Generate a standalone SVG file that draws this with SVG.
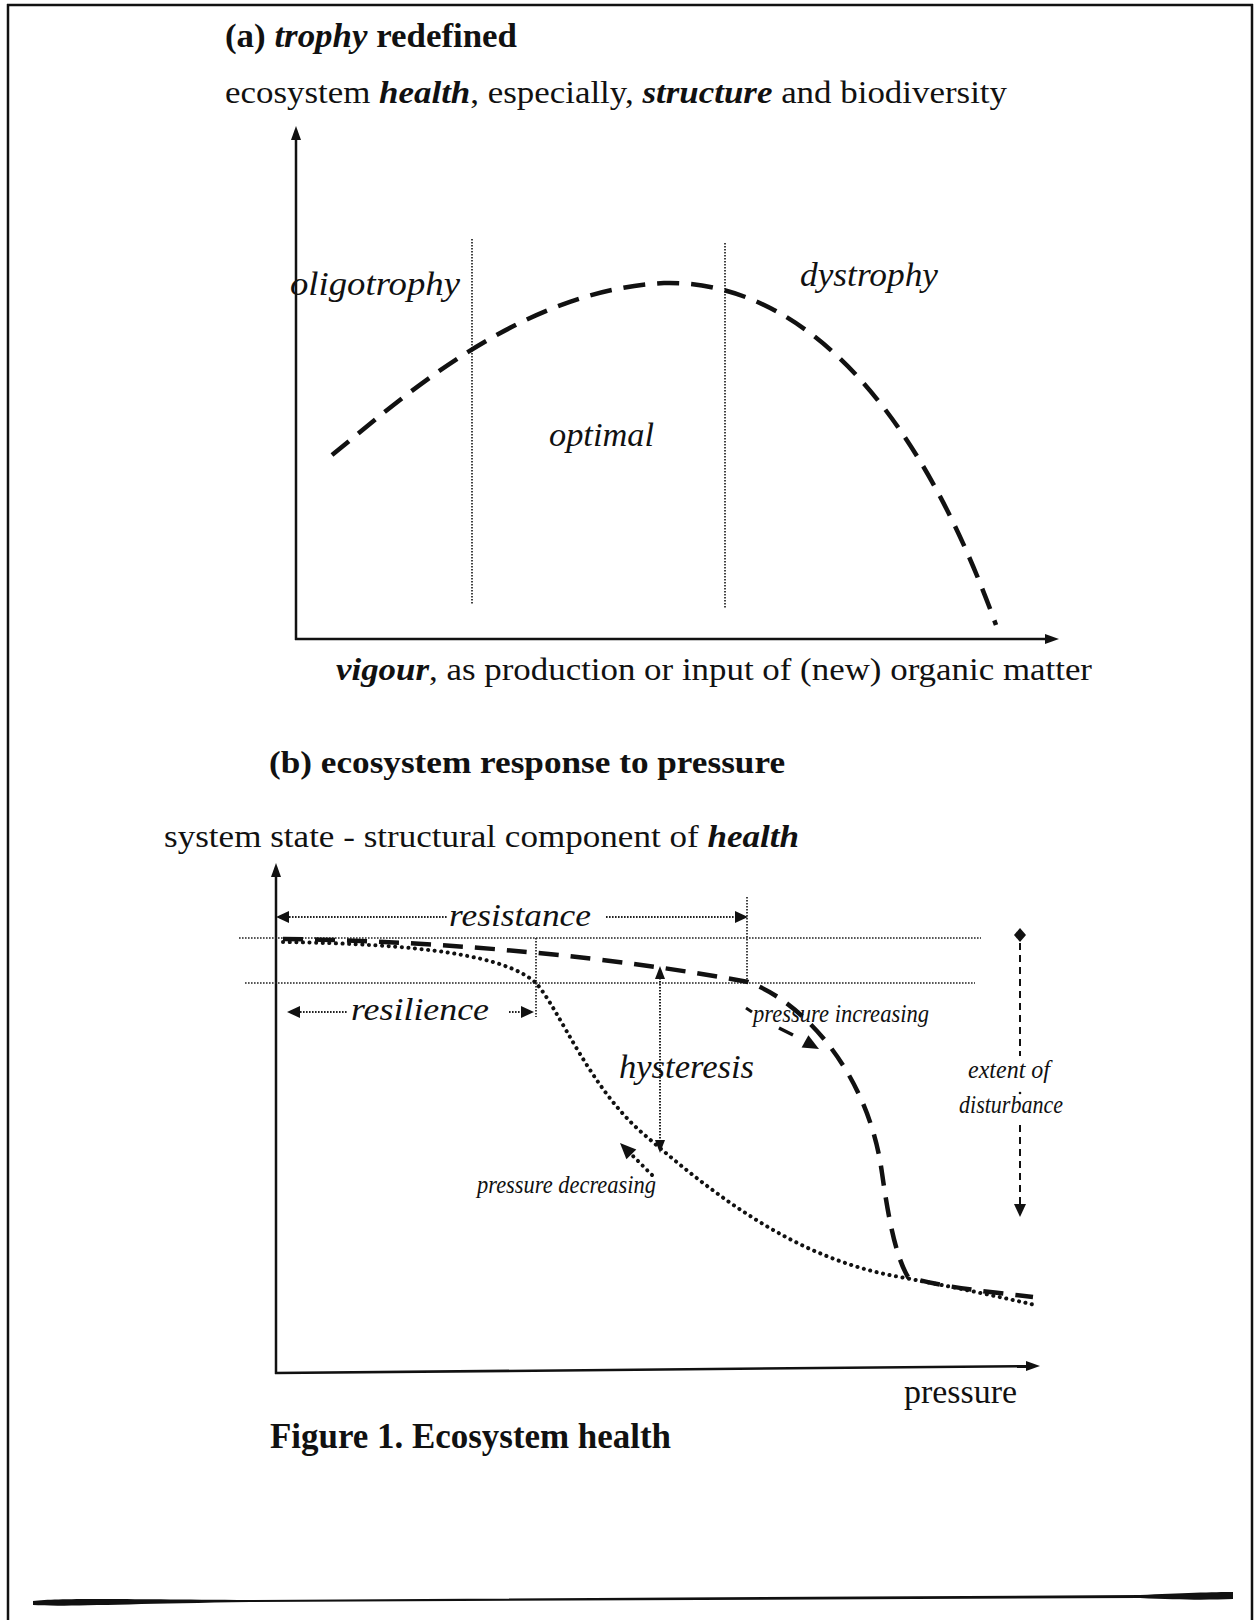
<svg xmlns="http://www.w3.org/2000/svg" width="1255" height="1620" viewBox="0 0 1255 1620">
<style>
text{font-family:"Liberation Serif","Times New Roman",serif;fill:#111}
.b{font-weight:bold}
.i{font-style:italic}
.bi{font-weight:bold;font-style:italic}
.axis{stroke:#111;stroke-width:2.5;fill:none}
.frame{stroke:#111;stroke-width:2.5;fill:none}
.dash{stroke:#111;stroke-width:4.5;fill:none;stroke-dasharray:22 12}
.dot{stroke:#111;stroke-width:4;fill:none;stroke-dasharray:0.1 6.5;stroke-linecap:round}
.fine{stroke:#222;stroke-width:1.7;fill:none;stroke-dasharray:1.6 1.4}
.head{fill:#111}
</style>
<rect width="1255" height="1620" fill="#fff"/>
<g id="frame">
<line class="frame" x1="8" y1="4" x2="8" y2="1620"/>
<line class="frame" x1="7" y1="5" x2="1253" y2="5"/>
<line class="frame" x1="1252" y1="4" x2="1252" y2="1620"/>
<path fill="#111" d="M33,1601 C 60,1598 110,1599 250,1600 L 1140,1595 C 1180,1593 1215,1592 1233,1592 L 1233,1599 C 1210,1600 1180,1600 1140,1598 L 250,1602 C 120,1604 60,1607 33,1605 Z"/>
</g>
<g id="panel-a">
<text class="b" x="225" y="47" font-size="34" textLength="292" lengthAdjust="spacingAndGlyphs">(a) <tspan class="bi">trophy</tspan> redefined</text>
<text x="225" y="103" font-size="32" textLength="782" lengthAdjust="spacingAndGlyphs">ecosystem <tspan class="bi">health</tspan>, especially, <tspan class="bi">structure</tspan> and biodiversity</text>
<g id="axes-a">
<line class="axis" x1="296" y1="139" x2="296" y2="640"/>
<polygon class="head" points="296,126 291,140 301,140"/>
<line class="axis" x1="295" y1="639" x2="1046" y2="639"/>
<polygon class="head" points="1059,639 1045,634 1045,644"/>
</g>
<line class="fine" x1="472" y1="239" x2="472" y2="604"/>
<line class="fine" x1="725" y1="243" x2="725" y2="608"/>
<path class="dash" d="M332,455 C 400,400 520,290 664,283 C 780,280 905,372 996,625"/>
<text class="i" x="290" y="295" font-size="34" textLength="170" lengthAdjust="spacingAndGlyphs">oligotrophy</text>
<text class="i" x="800" y="286" font-size="34" textLength="138" lengthAdjust="spacingAndGlyphs">dystrophy</text>
<text class="i" x="549" y="446" font-size="34" textLength="105" lengthAdjust="spacingAndGlyphs">optimal</text>
<text x="336" y="680" font-size="32" textLength="756" lengthAdjust="spacingAndGlyphs"><tspan class="bi">vigour</tspan>, as production or input of (new) organic matter</text>
</g>
<g id="panel-b">
<text class="b" x="269" y="773" font-size="32" textLength="516" lengthAdjust="spacingAndGlyphs">(b) ecosystem response to pressure</text>
<text x="164" y="847" font-size="31" textLength="635" lengthAdjust="spacingAndGlyphs">system state - structural component of <tspan class="bi">health</tspan></text>
<g id="axes-b">
<line class="axis" x1="276" y1="876" x2="276" y2="1374"/>
<polygon class="head" points="276,863 271,877 281,877"/>
<line class="axis" x1="275" y1="1373" x2="1027" y2="1366.2"/>
<polygon class="head" points="1040,1366 1026,1361 1026,1371"/>
</g>
<g id="reference-lines">
<line class="fine" x1="239" y1="938" x2="981" y2="938"/>
<line class="fine" x1="245" y1="983" x2="975" y2="983"/>
<line class="fine" x1="747" y1="897" x2="747" y2="983"/>
<line class="fine" x1="536" y1="938" x2="536" y2="1017"/>
</g>
<g id="curves">
<path class="dash" style="stroke-dasharray:20 12" d="M283,939 C 450,941 620,958 748,982 C 800,1000 868,1070 882,1173 C 888,1215 895,1255 908,1277 C 940,1287 990,1292 1033,1297"/>
<path class="dot" d="M283,942 C 420,944 505,955 536,983 C 560,1010 590,1090 647,1137 C 720,1200 800,1260 900,1277 Q 970,1290 1035,1305"/>
</g>
<g id="resistance">
<line class="fine" x1="286" y1="917" x2="447" y2="917" style="stroke-width:2.2"/>
<line class="fine" x1="606" y1="917" x2="738" y2="917" style="stroke-width:2.2"/>
<polygon class="head" points="276,917 289,911 289,923"/>
<polygon class="head" points="748,917 735,911 735,923"/>
<text class="i" x="449" y="926" font-size="32" textLength="142" lengthAdjust="spacingAndGlyphs">resistance</text>
</g>
<g id="resilience">
<line class="fine" x1="297" y1="1012" x2="348" y2="1012" style="stroke-width:2.2"/>
<line class="fine" x1="509" y1="1012" x2="524" y2="1012" style="stroke-width:2.2"/>
<polygon class="head" points="287,1012 300,1006 300,1018"/>
<polygon class="head" points="534,1012 521,1006 521,1018"/>
<text class="i" x="351" y="1020" font-size="32" textLength="138" lengthAdjust="spacingAndGlyphs">resilience</text>
</g>
<g id="hysteresis">
<line class="fine" x1="660" y1="978" x2="660" y2="1141" style="stroke-width:2"/>
<polygon class="head" points="660,966 655,979 665,979"/>
<polygon class="head" points="660,1153 655,1140 665,1140"/>
<text class="i" x="619" y="1078" font-size="34" textLength="135" lengthAdjust="spacingAndGlyphs">hysteresis</text>
</g>
<g id="pressure-increasing">
<line x1="746" y1="1008" x2="752" y2="1012" stroke="#111" stroke-width="3"/>
<line x1="779" y1="1028" x2="793" y2="1035" stroke="#111" stroke-width="3.5"/>
<polygon class="head" points="819,1049 801.6,1047.4 808.4,1035.2"/>
<text class="i" x="753" y="1022" font-size="25" textLength="176" lengthAdjust="spacingAndGlyphs">pressure increasing</text>
</g>
<g id="pressure-decreasing">
<line class="dot" x1="652" y1="1175" x2="630" y2="1153"/>
<polygon class="head" points="620,1143 636.3,1149.4 626.4,1159.3"/>
<text class="i" x="477" y="1193" font-size="25" textLength="179" lengthAdjust="spacingAndGlyphs">pressure decreasing</text>
</g>
<g id="extent-of-disturbance">
<polygon class="head" points="1020,928 1026,935 1020,942 1014,935"/>
<line x1="1020" y1="943" x2="1020" y2="1056" stroke="#111" stroke-width="2" stroke-dasharray="7 5"/>
<circle cx="1020" cy="1093" r="1.3" fill="#111"/>
<line x1="1020" y1="1125" x2="1020" y2="1205" stroke="#111" stroke-width="2" stroke-dasharray="7 5"/>
<polygon class="head" points="1020,1217 1014,1204 1026,1204"/>
<text class="i" x="968" y="1078" font-size="25" textLength="82" lengthAdjust="spacingAndGlyphs">extent of</text>
<text class="i" x="959" y="1113" font-size="25" textLength="104" lengthAdjust="spacingAndGlyphs">disturbance</text>
</g>
<text x="904" y="1403" font-size="33" textLength="113" lengthAdjust="spacingAndGlyphs">pressure</text>
<text class="b" x="270" y="1448" font-size="36" textLength="401" lengthAdjust="spacingAndGlyphs">Figure 1. Ecosystem health</text>
</g>
</svg>
